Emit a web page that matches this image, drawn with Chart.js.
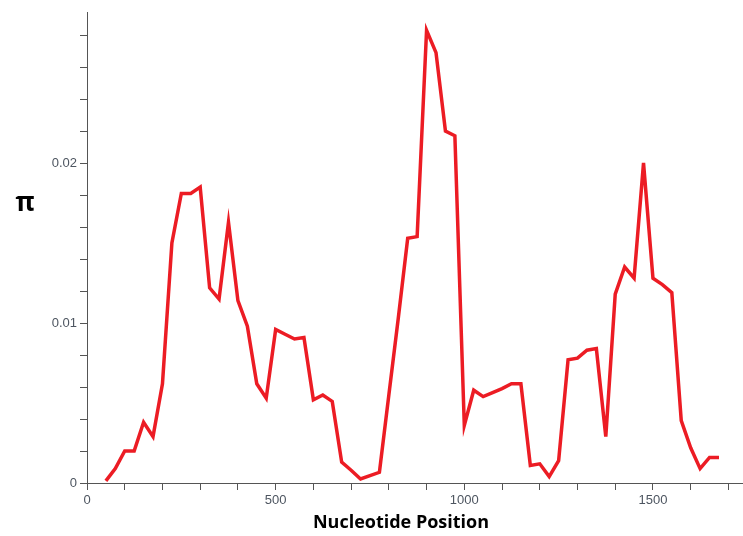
<!DOCTYPE html>
<html lang="en">
<head>
  <meta charset="UTF-8">
  <title>Nucleotide diversity</title>
  <style>
    body {
      margin: 0;
      padding: 0;
      background-color: #fff;
    }
    .chart-box {
      width: 743px;
      height: 536px;
      position: relative;
    }
  </style>
</head>
<body>
  <div class="chart-box">
    <canvas id="piChart" width="743" height="536"></canvas>
  </div>

  <script src="https://cdn.jsdelivr.net/npm/chart.js"></script>
  <script>
    // window midpoints (nucleotide position)
    const positions = [
      50, 75, 100, 125, 150, 175, 200, 225, 250, 275, 300, 325, 350, 375, 400, 425, 450, 475,
      500, 525, 550, 575, 600, 625, 650, 675, 700, 725, 750, 775, 800, 825, 850, 875, 900, 925,
      950, 975, 1000, 1025, 1050, 1075, 1100, 1125, 1150, 1175, 1200, 1225, 1250, 1275, 1300,
      1325, 1350, 1375, 1400, 1425, 1450, 1475, 1500, 1525, 1550, 1575, 1600, 1625, 1650, 1675
    ];
    // nucleotide diversity (pi)
    const piValues = [
      0.00013, 0.0009, 0.0020, 0.0020, 0.0038, 0.0029, 0.0062, 0.0150, 0.0181, 0.0181, 0.0185,
      0.0122, 0.0115, 0.0163, 0.0114, 0.0098, 0.0062, 0.0053,
      0.0096, 0.0093, 0.0090, 0.0091, 0.0052, 0.0055, 0.0051, 0.0013, 0.0008, 0.00025, 0.00046,
      0.00067, 0.0055, 0.0103, 0.0153, 0.0154, 0.0283, 0.0269,
      0.0220, 0.0217, 0.0036, 0.0058, 0.0054, 0.00565, 0.0059, 0.0062, 0.0062, 0.0011, 0.0012,
      0.0004, 0.0014, 0.0077, 0.0078,
      0.0083, 0.0084, 0.0029, 0.0118, 0.0135, 0.0128, 0.0200, 0.0128, 0.0124, 0.0119, 0.0039,
      0.0022, 0.0009, 0.0016, 0.0016
    ];
    const xLabelEvery = 500;   // labelled x ticks
    const yLabelEvery = 0.01;  // labelled y ticks
    const xTitle = 'Nucleotide Position';
    const yTitle = 'π';

    const axisColor = '#555555';

    // axis titles: the y one stays upright, the x one sits a bit left of centre
    const axisTitles = {
      id: 'axisTitles',
      afterDraw(chart) {
        const c = chart.ctx;
        c.save();
        c.fillStyle = '#000';
        c.textAlign = 'center';
        c.textBaseline = 'middle';
        c.font = 'bold 26px "Open Sans", sans-serif';
        c.fillText(yTitle, 25, 204);
        c.font = 'bold 18px "Open Sans", sans-serif';
        c.fillText(xTitle, 401, 523);
        c.restore();
      }
    };

    const ctx = document.getElementById('piChart').getContext('2d');
    const piChart = new Chart(ctx, {
      type: 'line',
      data: {
        datasets: [{
          label: 'π',
          data: positions.map((p, i) => ({ x: p, y: piValues[i] })),
          borderColor: '#ec1c24',
          borderWidth: 3.5,
          pointRadius: 0,
          tension: 0,
          fill: false
        }]
      },
      options: {
        responsive: false,
        animation: false,
        layout: {
          padding: { top: 12, right: 1, left: 0, bottom: 0 }
        },
        plugins: {
          legend: { display: false },
          tooltip: { enabled: false }
        },
        scales: {
          x: {
            type: 'linear',
            min: 0,
            max: 1736,
            border: { display: true, color: axisColor, width: 1 },
            grid: {
              drawOnChartArea: false,
              drawTicks: true,
              tickLength: 7,
              color: axisColor
            },
            ticks: {
              stepSize: 100,
              includeBounds: false,
              autoSkip: false,
              maxRotation: 0,
              padding: 3,
              color: '#4d5560',
              font: { family: 'Liberation Sans, Arial, sans-serif', size: 13 },
              callback: v => (v % xLabelEvery === 0 ? String(v) : '')
            },
            title: { display: false },
            afterFit(scale) { scale.height = 53; }
          },
          y: {
            type: 'linear',
            min: 0,
            max: 0.029438,
            border: { display: true, color: axisColor, width: 1 },
            grid: {
              drawOnChartArea: false,
              drawTicks: true,
              tickLength: 7,
              color: axisColor
            },
            ticks: {
              stepSize: 0.002,
              includeBounds: false,
              autoSkip: false,
              padding: 3,
              color: '#4d5560',
              font: { family: 'Liberation Sans, Arial, sans-serif', size: 13 },
              callback: v => {
                const k = Math.round(v / 0.002);
                if (k % Math.round(yLabelEvery / 0.002) !== 0) return '';
                return k === 0 ? '0' : (k * 0.002).toFixed(2);
              }
            },
            afterFit(scale) { scale.width = 87; }
          }
        }
      },
      plugins: [axisTitles]
    });
  </script>
</body>
</html>
